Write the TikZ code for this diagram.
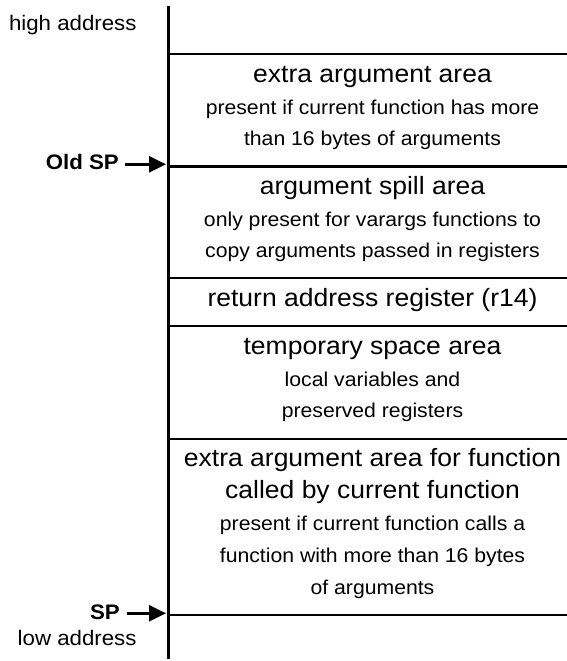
\documentclass[tikz,border=0pt]{standalone}
\usepackage{fontspec}
\setmainfont{Liberation Sans}[FakeStretch=1.06]
\usetikzlibrary{arrows.meta}

\begin{document}
\begin{tikzpicture}[x=1bp,y=-1bp,
  frame/.style={line width=2.3bp,line cap=butt},
  bigtxt/.style={anchor=base,inner sep=0pt,font=\fontsize{25bp}{30bp}\selectfont},
  smalltxt/.style={anchor=base,inner sep=0pt,font=\fontsize{20bp}{24bp}\selectfont},
  lbl/.style={anchor=base east,inner sep=0pt,font=\fontsize{21bp}{25bp}\selectfont},
  boldlbl/.style={anchor=base east,inner sep=0pt,font=\fontsize{21bp}{25bp}\selectfont\bfseries},
  ptr/.style={line width=2.4bp,-{Triangle[length=17bp,width=16bp]}}]
\useasboundingbox (0,0) rectangle (567,661);
\fill[white] (0,0) rectangle (567,661);

% stack frame lines
\coordinate (vtop) at (168.5,6);
\coordinate (vbot) at (168.5,659);
\draw[frame] (vtop) -- (vbot);
\foreach \i/\y in {0/54,1/166.5,2/278,3/326,4/439,5/615}{
  \coordinate (l\i) at (168.5,\y);
  \coordinate (r\i) at (567,\y);
  \draw[frame] (l\i) -- (r\i);
}

% block 1
\node[bigtxt]   (b1a) at (372.5,82.3)  {extra argument area};
\node[smalltxt] (b1b) at (372.5,114.3) {present if current function has more};
\node[smalltxt] (b1c) at (372.5,145.7) {than 16 bytes of arguments};
% block 2
\node[bigtxt]   (b2a) at (372.5,194)   {argument spill area};
\node[smalltxt] (b2b) at (372.5,226)   {only present for varargs functions to};
\node[smalltxt] (b2c) at (372.5,257.7) {copy arguments passed in registers};
% block 3
\node[bigtxt]   (b3a) at (372.5,306.3) {return address register (r14)};
% block 4
\node[bigtxt]   (b4a) at (372.5,354)   {temporary space area};
\node[smalltxt] (b4b) at (372.5,386)   {local variables and};
\node[smalltxt] (b4c) at (372.5,417.7) {preserved registers};
% block 5
\node[bigtxt]   (b5a) at (372.5,466.7) {extra argument area for function};
\node[bigtxt]   (b5b) at (372.5,498.3) {called by current function};
\node[smalltxt] (b5c) at (372.5,530.7) {present if current function calls a};
\node[smalltxt] (b5d) at (372.5,562.7) {function with more than 16 bytes};
\node[smalltxt] (b5e) at (372.5,594)   {of arguments};

% labels
\node[lbl]     (high)  at (136.7,31)    {high address};
\node[boldlbl] (oldsp) at (119,169)     {Old SP};
\node[boldlbl] (sp)    at (120,619.3)   {SP};
\node[lbl]     (low)   at (136.7,645)   {low address};

% pointers
\coordinate (oldtail) at (125,164.3);
\coordinate (oldtip)  at (166,164.3);
\coordinate (sptail)  at (126.7,613.3);
\coordinate (sptip)   at (166,613.3);
\draw[ptr] (oldtail) -- (oldtip);
\draw[ptr] (sptail) -- (sptip);
\end{tikzpicture}
\end{document}
